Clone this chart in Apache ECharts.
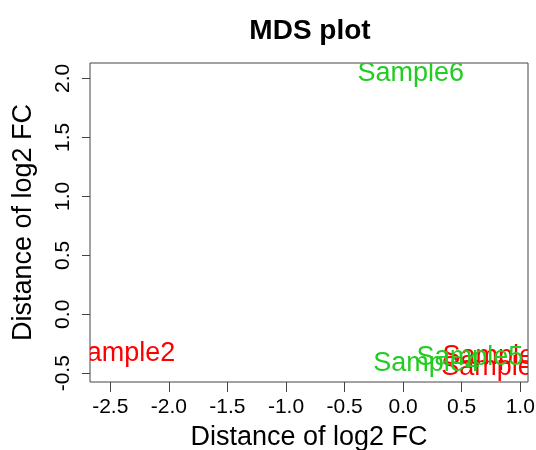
<!DOCTYPE html>
<html>
<head>
<meta charset="utf-8">
<script src="https://cdn.jsdelivr.net/npm/echarts@6/dist/echarts.min.js"></script>
<style>
html,body{margin:0;padding:0;background:#fff;}
#chart{width:536px;height:450px;}
</style>
</head>
<body>
<div id="chart"></div>
<script>
// Data
var sampleNames = ['Sample1', 'Sample2', 'Sample3', 'Sample4', 'Sample5', 'Sample6'];
var dim1 = [0.79, -2.40, 0.78, 0.20, 0.57, 0.066];
var dim2 = [-0.355, -0.337, -0.455, -0.418, -0.365, 2.044];
var sampleColors = ['#ff0000', '#ff0000', '#ff0000', '#22cc22', '#22cc22', '#22cc22'];
var xTicks = [-2.5, -2.0, -1.5, -1.0, -0.5, 0.0, 0.5, 1.0];
var yTicks = [-0.5, 0.0, 0.5, 1.0, 1.5, 2.0];

var points = sampleNames.map(function (n, i) { return [dim1[i], dim2[i], n, sampleColors[i]]; });
var FONT = 'Liberation Sans, Arial, Helvetica, sans-serif';
var AXC = '#444';

var chart = echarts.init(document.getElementById('chart'), null, {renderer: 'canvas'});
chart.setOption({
  animation: false,
  backgroundColor: '#fff',
  title: {
    text: 'MDS plot',
    left: 305, top: 12, textAlign: 'center',
    textStyle: {fontFamily: FONT, fontSize: 28, fontWeight: 'bold', color: '#000'}
  },
  grid: {
    left: 90, right: 8, top: 63, bottom: 68,
    outerBoundsMode: 'none', containLabel: false,
    show: true, borderColor: AXC, borderWidth: 1, backgroundColor: 'transparent'
  },
  xAxis: {
    type: 'value', min: -2.673, max: 1.066,
    name: 'Distance of log2 FC', nameLocation: 'middle', nameGap: 42,
    nameTextStyle: {fontFamily: FONT, fontSize: 27, color: '#000'},
    axisLine: {show: false, onZero: false},
    splitLine: {show: false},
    axisTick: {show: true, inside: false, length: 10, customValues: xTicks, lineStyle: {color: AXC, width: 1}},
    axisLabel: {show: true, customValues: xTicks, margin: 15, fontFamily: FONT, fontSize: 21, color: '#000',
      formatter: function (v) { return v.toFixed(1); }}
  },
  yAxis: {
    type: 'value', min: -0.574, max: 2.13,
    name: 'Distance of log2 FC', nameLocation: 'middle', nameGap: 53, nameRotate: 90,
    nameTextStyle: {fontFamily: FONT, fontSize: 27, color: '#000'},
    axisLine: {show: false, onZero: false},
    splitLine: {show: false},
    axisTick: {show: true, inside: false, length: 8, customValues: yTicks, lineStyle: {color: AXC, width: 1}},
    axisLabel: {show: true, customValues: yTicks, rotate: 90, margin: 16, fontFamily: FONT, fontSize: 21, color: '#000',
      formatter: function (v) { return v.toFixed(1); }}
  },
  series: [{
    type: 'custom',
    clip: true,
    data: points,
    encode: {x: 0, y: 1},
    renderItem: function (params, api) {
      var p = api.coord([api.value(0), api.value(1)]);
      var d = points[params.dataIndex];
      return {
        type: 'text',
        x: p[0], y: p[1],
        style: {
          text: d[2], fill: d[3], align: 'center', verticalAlign: 'middle',
          font: '27px ' + FONT
        }
      };
    }
  }]
});
</script>
</body>
</html>
